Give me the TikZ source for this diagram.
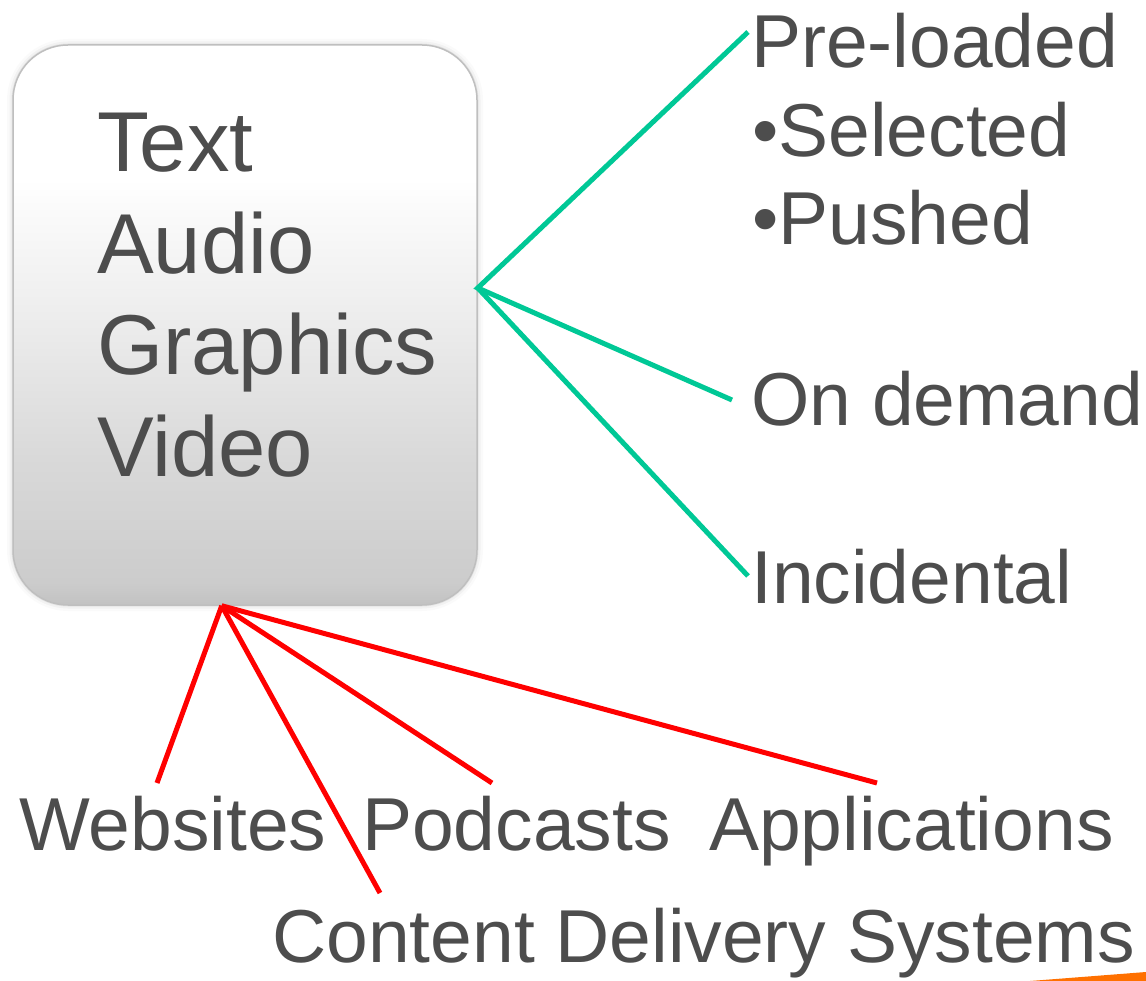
\documentclass[tikz,border=0pt]{standalone}
\usepackage{fontspec}
\setmainfont{Liberation Sans}
\usepackage{xcolor}
\usetikzlibrary{calc}
\definecolor{labelgray}{RGB}{77,77,77}
\definecolor{deliverygreen}{RGB}{0,200,150}
\definecolor{channelred}{RGB}{255,0,0}
\definecolor{cornerorange}{RGB}{255,112,0}
\pgfdeclareverticalshading{mediashade}{100bp}{color(0bp)=(gray!48!white); color(25bp)=(gray!48!white); color(27bp)=(gray!40!white); color(38bp)=(gray!30!white); color(50bp)=(gray!15!white); color(60bp)=(gray!4!white); color(63bp)=(white); color(100bp)=(white)}
\tikzstyle{itemtext}=[anchor=base west, inner sep=0pt, text=labelgray, font=\fontsize{75}{90}\selectfont]
\tikzstyle{mediatext}=[itemtext, font=\fontsize{85}{102}\selectfont]
\tikzstyle{mediabox}=[rounded corners=55pt, shading=mediashade, draw=gray!50, line width=1.5pt, minimum width=464pt, minimum height=560pt]
\tikzstyle{deliver}=[draw=deliverygreen, line width=5pt]
\tikzstyle{channel}=[draw=channelred, line width=5pt]
\begin{document}
\begin{tikzpicture}[x=1pt,y=-1pt]
	\useasboundingbox (0,0) rectangle (1146,981);
	% soft shadow round the box
	\foreach \w/\o in {12/0.04,7/0.07,3/0.12}
		\draw[rounded corners=55pt, line width=\w pt, gray, opacity=\o] (13,45) rectangle (477,605);
	\node[mediabox] (media) at (245,325) {};
	\foreach \t [count=\i] in {Text,Audio,Graphics,Video}
		\node[mediatext] (m\i) at (97,{172+(\i-1)*101.5}) {\t};
	% delivery kinds
	\node[itemtext] (pre) at (751,68) {Pre-loaded};
	\node[itemtext] (sel) at (752,156.5) {•Selected};
	\node[itemtext] (push) at (752,245) {•Pushed};
	\node[itemtext] (demand) at (751,425) {On demand};
	\node[itemtext] (incid) at (751,603) {Incidental};
	% channels
	\node[itemtext] (web) at (19,850) {Websites};
	\node[itemtext] (pod) at (362,850) {Podcasts};
	\node[itemtext] (apps) at (709,850) {Applications};
	\node[itemtext] (cds) at (272,962) {Content Delivery Systems};
	\coordinate (hubR) at ($(media.south east)!0.566!(media.north east)$);
	\coordinate (hubB) at ($(media.south west)!0.45!(media.south east)$);
	\coordinate (preEnd) at (748,32);
	\coordinate (demandEnd) at (732,400);
	\coordinate (incidEnd) at (748,576);
	\coordinate (webEnd) at (157,783);
	\coordinate (cdsEnd) at (380,893);
	\coordinate (podEnd) at (492,783);
	\coordinate (appsEnd) at (877,783);
	\draw[deliver] (preEnd) -- (hubR) -- (demandEnd);
	\draw[deliver] (hubR) -- (incidEnd);
	\foreach \e in {webEnd,cdsEnd,podEnd,appsEnd}
		\draw[channel] (hubB) -- (\e);
	\fill[cornerorange] (1030,981) -- (1146,972) -- (1146,981) -- cycle;
\end{tikzpicture}
\end{document}
